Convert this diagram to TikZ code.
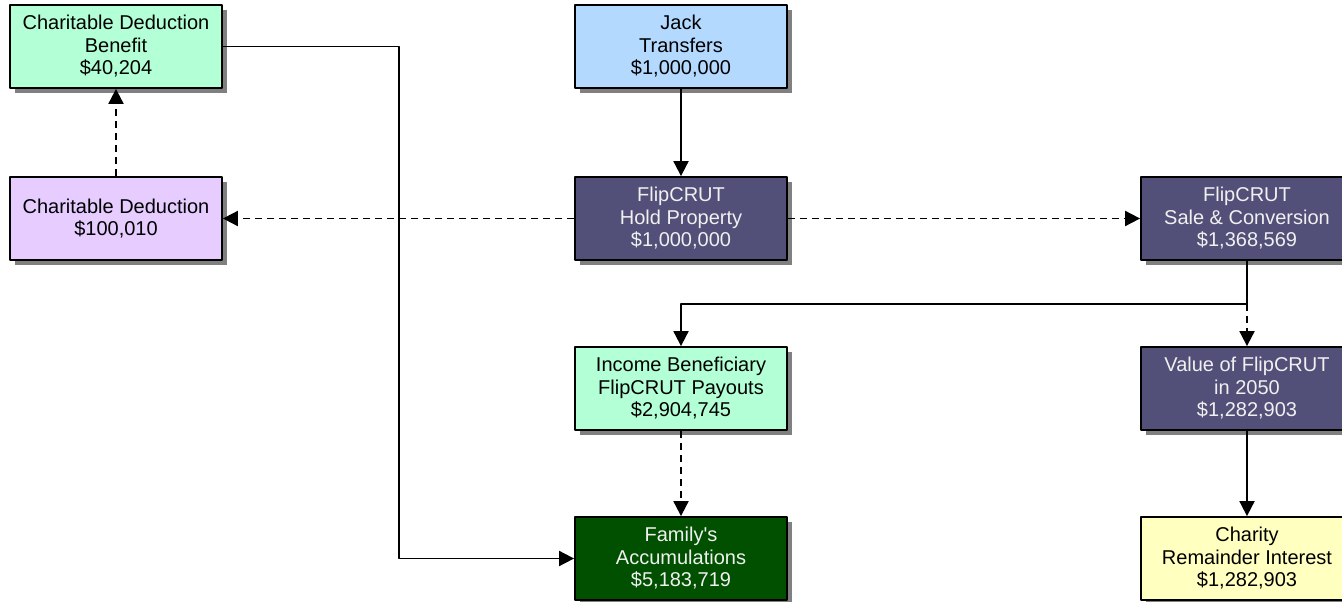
\documentclass[tikz,border=0pt]{standalone}
\usepackage{fontspec}
\setmainfont{Liberation Sans}
\usetikzlibrary{arrows.meta,shadows}
\definecolor{mintfill}{RGB}{179,255,214}
\definecolor{jackfill}{RGB}{179,217,255}
\definecolor{lavfill}{RGB}{230,204,255}
\definecolor{flipfill}{RGB}{82,80,120}
\definecolor{famfill}{RGB}{0,80,0}
\definecolor{charfill}{RGB}{255,255,192}
\tikzset{
  box/.style={draw, line width=1.8pt, minimum width=212pt, minimum height=83pt,
    inner sep=0pt, align=center, font=\fontsize{20}{22.5}\selectfont,
    drop shadow={shadow xshift=5pt, shadow yshift=-5pt, fill=black!50, opacity=1}},
  darkbox/.style={box, fill=flipfill, text=white!94!black},
  conn/.style={line width=1.9pt, ->},
  dashconn/.style={conn, dash pattern=on 7pt off 5pt}
}
\begin{document}
\begin{tikzpicture}[x=1pt, y=-1pt, line join=round,
  >={Triangle[width=15pt,length=15pt]}]
\useasboundingbox (0,0) rectangle (1342,602);
% left column
\node[box, fill=mintfill] (cdb) at (116,46.5) {Charitable Deduction\\Benefit\\\$40,204};
\node[box, fill=lavfill] (cd) at (116,218.5) {Charitable Deduction\\\$100,010};
% middle column
\node[box, fill=jackfill] (jack) at (681,46.5) {Jack\\Transfers\\\$1,000,000};
\node[darkbox] (hold) at (681,218.5) {FlipCRUT\\Hold Property\\\$1,000,000};
\node[box, fill=mintfill] (income) at (681,388.5) {Income Beneficiary\\FlipCRUT Payouts\\\$2,904,745};
\node[box, fill=famfill, text=white!94!black] (family) at (681,558.5) {Family\textquotesingle s\\Accumulations\\\$5,183,719};
% right column
\node[darkbox] (sale) at (1247,218.5) {FlipCRUT\\Sale \& Conversion\\\$1,368,569};
\node[darkbox] (value) at (1247,388.5) {Value of FlipCRUT\\in 2050\\\$1,282,903};
\node[box, fill=charfill] (charity) at (1247,558.5) {Charity\\Remainder Interest\\\$1,282,903};
% connectors
\draw[conn] (jack) -- (hold);
\draw[dashconn] (hold) -- (cd);
\draw[dashconn] (hold) -- (sale);
\draw[dashconn] (cd) -- (cdb);
\draw[conn] (cdb.east) -- ++(176,0) |- (family.west);
\draw[conn] (sale.south) -- ++(0,43) coordinate (split) -| (income.north);
\draw[dashconn] (split) -- (value.north);
\draw[dashconn] (income) -- (family);
\draw[conn] (value) -- (charity);
\end{tikzpicture}
\end{document}
